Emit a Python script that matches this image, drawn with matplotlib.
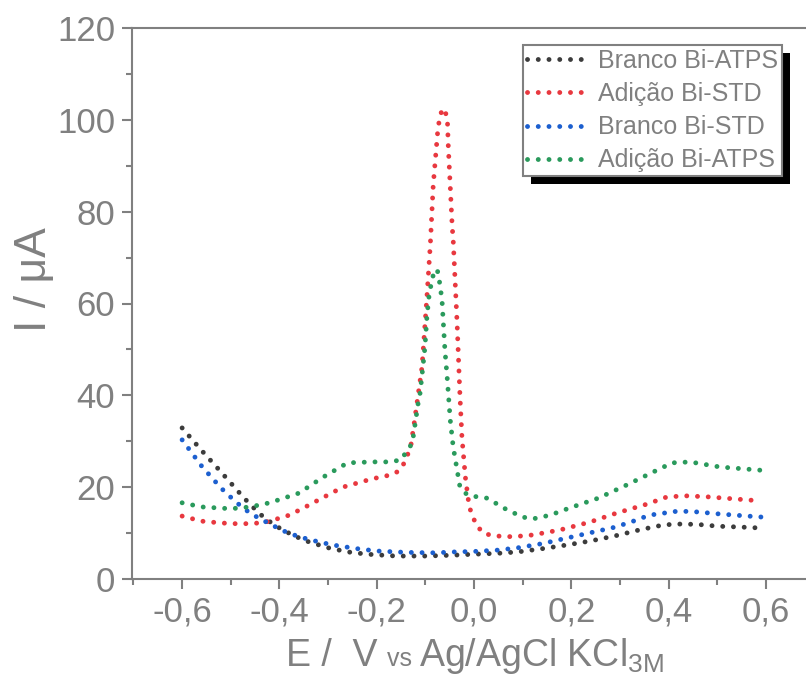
import numpy as np
import matplotlib
matplotlib.use("Agg")
import matplotlib.pyplot as plt
from matplotlib.patches import Rectangle
from matplotlib.offsetbox import TextArea, HPacker, AnchoredOffsetbox

plt.rcParams['font.family'] = ['Liberation Sans', 'DejaVu Sans']
plt.rcParams['mathtext.fontset'] = 'custom'
plt.rcParams['mathtext.rm'] = 'Liberation Sans'

grey = '#808080'

# Branco Bi-ATPS
E_black = [-0.60, -0.56, -0.52, -0.48, -0.46, -0.43, -0.40, -0.37, -0.34, -0.30, -0.26, -0.22,
           -0.16, -0.10, -0.04, 0.00, 0.05, 0.09, 0.14, 0.19, 0.24, 0.29, 0.34, 0.39, 0.43,
           0.47, 0.50, 0.55, 0.59]
I_black = [32.9, 28.0, 23.3, 18.5, 16.2, 13.2, 11.1, 9.4, 8.1, 6.8, 5.9, 5.4,
           5.0, 5.0, 5.2, 5.4, 5.6, 5.9, 6.6, 7.4, 8.3, 9.4, 10.7, 11.8, 12.0,
           11.8, 11.5, 11.3, 11.1]

# Adição Bi-STD
E_red = [-0.60, -0.56, -0.52, -0.48, -0.44, -0.42, -0.38, -0.35, -0.32, -0.27, -0.21, -0.17,
         -0.155, -0.142, -0.13, -0.123, -0.107, -0.097, -0.090, -0.084, -0.074, -0.068, -0.062,
         -0.055, -0.053, -0.049, -0.045, -0.043, -0.035, -0.029, -0.025, -0.018, -0.010, 0.004,
         0.019, 0.039, 0.08, 0.121, 0.177, 0.238, 0.294, 0.355, 0.397, 0.437, 0.479, 0.54, 0.59]
I_red = [13.7, 12.6, 12.2, 12.0, 12.2, 12.6, 13.9, 15.5, 17.2, 20.0, 21.8, 22.7,
         23.5, 25.5, 29.0, 34.0, 46.2, 61.4, 72.8, 85.8, 98.5, 101.5, 102.5,
         100.4, 94.1, 85.4, 76.7, 73.9, 55.8, 39.7, 30.9, 22.2, 15.7, 11.8,
         10.0, 9.4, 9.2, 9.6, 10.7, 12.4, 14.4, 16.3, 17.9, 18.1, 17.9, 17.4, 17.0]

# Branco Bi-STD
E_blue = [-0.60, -0.56, -0.52, -0.49, -0.46, -0.42, -0.39, -0.36, -0.32, -0.29, -0.24, -0.20,
          -0.14, -0.08, -0.04, 0.00, 0.05, 0.09, 0.14, 0.19, 0.24, 0.29, 0.33, 0.36, 0.42,
          0.46, 0.50, 0.55, 0.59]
I_blue = [30.3, 24.6, 19.8, 16.8, 14.3, 12.0, 10.4, 9.2, 8.1, 7.4, 6.6, 6.1,
          5.8, 5.7, 5.9, 6.0, 6.3, 6.8, 7.7, 8.9, 10.1, 11.3, 12.7, 13.9, 14.8,
          14.6, 14.2, 13.8, 13.5]

# Adição Bi-ATPS
E_green = [-0.60, -0.56, -0.50, -0.46, -0.42, -0.36, -0.31, -0.26, -0.21, -0.17, -0.15,
           -0.127, -0.115, -0.111, -0.101, -0.097, -0.092, -0.084, -0.076, -0.072, -0.066,
           -0.060, -0.055, -0.049, -0.043, -0.029, -0.014, 0.006, 0.027, 0.043, 0.06, 0.099,
           0.121, 0.156, 0.197, 0.255, 0.314, 0.368, 0.407, 0.444, 0.505, 0.588]
I_green = [16.6, 15.7, 15.3, 15.7, 16.6, 18.7, 22.2, 25.3, 25.5, 25.5, 26.0,
           29.6, 38.3, 40.5, 50.5, 57.1, 62.3, 66.2, 67.5, 65.4, 60.8,
           49.9, 43.4, 34.6, 28.8, 20.0, 18.3, 17.9, 17.6, 16.6, 15.5, 13.5,
           13.1, 13.9, 15.5, 17.6, 20.5, 23.3, 25.3, 25.5, 24.4, 23.7]

x_ticks = [-0.6, -0.4, -0.2, 0.0, 0.2, 0.4, 0.6]
x_labels = ['-0,6', '-0,4', '-0,2', '0,0', '0,2', '0,4', '0,6']
y_ticks = [0, 20, 40, 60, 80, 100, 120]

fig = plt.figure(figsize=(8.06, 6.8), dpi=100)
ax = fig.add_axes([132/806, 1-579/680, 1-132/806, (579-28)/680])

dots = (0, (0.01, 2.2))
ax.plot(E_black, I_black, color='#3c3c3c', lw=3.5, ls=dots, dash_capstyle='round', label='Branco Bi-ATPS')
ax.plot(E_red, I_red, color='#e8383f', lw=3.5, ls=dots, dash_capstyle='round', label='Adição Bi-STD')
ax.plot(E_blue, I_blue, color='#1c5fcf', lw=3.5, ls=dots, dash_capstyle='round', label='Branco Bi-STD')
ax.plot(E_green, I_green, color='#2a9a5c', lw=3.5, ls=dots, dash_capstyle='round', label='Adição Bi-ATPS')

ax.set_xlim(-0.703, 0.682)
ax.set_ylim(0, 120)
ax.set_xticks(x_ticks)
ax.set_xticklabels(x_labels)
ax.set_xticks(np.arange(-0.7, 0.7, 0.1), minor=True)
ax.set_yticks(y_ticks)
ax.set_yticks(np.arange(0, 121, 10), minor=True)

for s in ['left', 'bottom', 'top']:
    ax.spines[s].set_color(grey)
    ax.spines[s].set_linewidth(1.5)
ax.spines['right'].set_visible(False)
ax.tick_params(which='both', direction='out', color=grey, width=1.5, labelcolor=grey,
               labelsize=25, top=False, right=False)
ax.tick_params(which='major', length=7, pad=5)
ax.tick_params(which='minor', length=4)

ax.set_ylabel('I / μA', fontsize=32, color=grey)
ax.yaxis.set_label_coords(-0.114, 0.543)

# x label with small "vs" and subscript
parts = HPacker(children=[
    TextArea('E /  V ', textprops=dict(fontsize=27, color=grey)),
    TextArea('vs ', textprops=dict(fontsize=18, color=grey)),
    TextArea('Ag/AgCl KCl$_{\\mathregular{3M}}$', textprops=dict(fontsize=27, color=grey)),
], align='baseline', pad=0, sep=0)
xl = AnchoredOffsetbox(loc='lower center', child=parts, pad=0, borderpad=0, frameon=False,
                       bbox_to_anchor=(475/806, 4/680), bbox_transform=fig.transFigure)
fig.add_artist(xl)

leg = ax.legend(loc='upper right', bbox_to_anchor=(782/806, 1-45/680),
                bbox_transform=fig.transFigure, fontsize=18, frameon=True, fancybox=False,
                framealpha=1, edgecolor=grey, borderpad=0.15, labelspacing=0.37,
                handlelength=2.3, handletextpad=0.55, borderaxespad=0)
leg.get_frame().set_linewidth(1.5)
for t in leg.get_texts():
    t.set_color(grey)
leg.set_zorder(6)

fig.canvas.draw()
bb = leg.get_window_extent()
inv = ax.transAxes.inverted()
(x0, y0), (x1, y1) = inv.transform([(bb.x0 + 8, bb.y0 - 8), (bb.x1 + 8, bb.y1 - 8)])
ax.add_patch(Rectangle((x0, y0), x1 - x0, y1 - y0, transform=ax.transAxes,
                       facecolor='black', edgecolor='none', clip_on=False, zorder=5))

fig.savefig('out.png', dpi=100)
